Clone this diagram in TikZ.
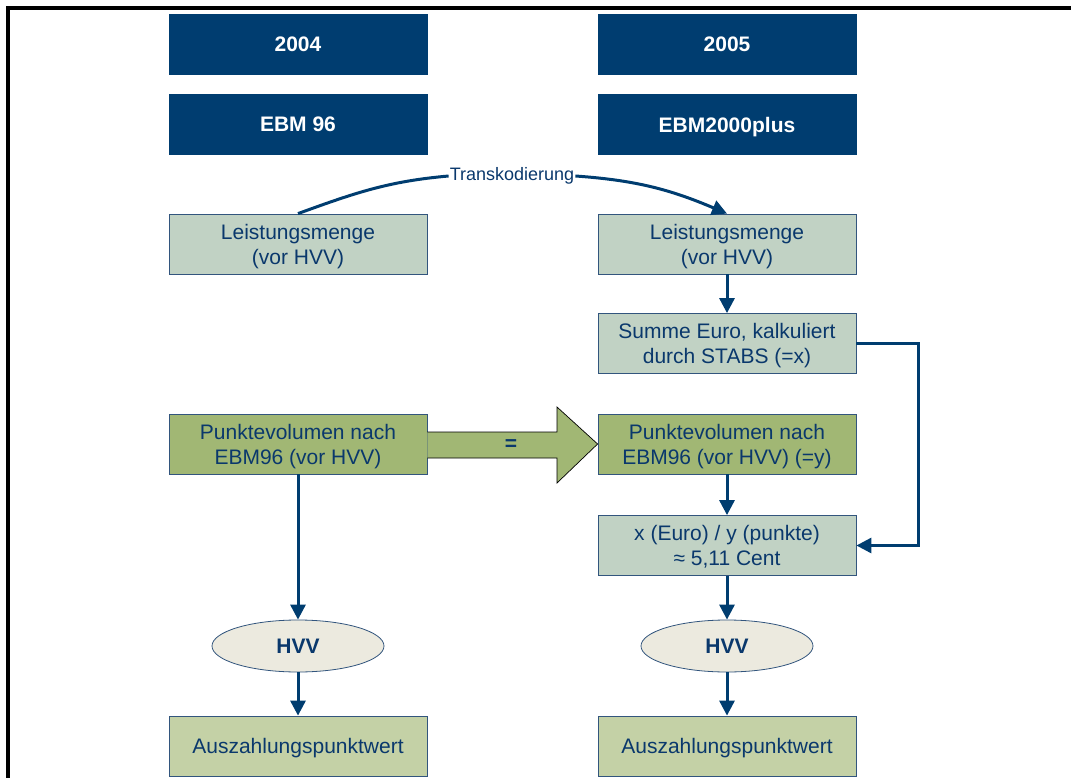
\documentclass[tikz,border=0pt]{standalone}
\usepackage{fontspec}
\setmainfont{Liberation Sans}
\usetikzlibrary{shapes.geometric,arrows.meta,calc}
\definecolor{navy}{RGB}{0,61,112}
\definecolor{txtblue}{RGB}{10,56,108}
\definecolor{lightbox}{RGB}{193,210,196}
\definecolor{olive}{RGB}{161,183,116}
\definecolor{paleolive}{RGB}{196,209,166}
\definecolor{cream}{RGB}{236,234,223}
\definecolor{edge}{RGB}{50,85,125}
\tikzset{
  base/.style={rectangle, minimum width=258pt, minimum height=60pt, inner sep=0pt, align=center, text depth=0pt, font=\fontsize{21}{25}\selectfont, text=txtblue, draw=edge, line width=0.8pt},
  head/.style={base, fill=navy, draw=navy, text=white, font=\fontsize{21}{25}\selectfont\bfseries},
  grey/.style={base, fill=lightbox},
  green/.style={base, fill=olive},
  pale/.style={base, fill=paleolive},
  oval/.style={ellipse, minimum width=172pt, minimum height=52pt, inner sep=0pt, fill=cream, draw=edge, line width=0.8pt, text=txtblue, font=\fontsize{21}{25}\selectfont\bfseries},
  arr/.style={draw=navy, line width=3pt, -{Triangle[length=15pt,width=15pt]}},
  conn/.style={draw=navy, line width=3pt},
}
\begin{document}
\begin{tikzpicture}[x=1pt,y=-1pt]
\useasboundingbox (0,0) rectangle (1071,778);
\draw[line width=3.5pt] (1071,8) -- (8,8) -- (8,778);

\node[head] (y04) at (298,44) {2004};
\node[head] (y05) at (727,44) {2005};
\node[head] (ebm96) at (298,124.5) {EBM 96};
\node[head] (ebm2k) at (727,124.5) {EBM2000plus};

\node[grey] (lm1) at (298,244) {Leistungsmenge\\(vor HVV)};
\node[grey] (lm2) at (727,244) {Leistungsmenge\\(vor HVV)};
\node[grey] (se) at (727,343.5) {Summe Euro, kalkuliert\\durch STABS (=x)};
\node[green] (pv1) at (298,444) {Punktevolumen nach\\EBM96 (vor HVV)};
\node[green] (pv2) at (727,444) {Punktevolumen nach\\EBM96 (vor HVV) (=y)};
\node[grey] (xe) at (727,545.5) {x (Euro) / y (punkte)\\≈ 5,11 Cent};
\node[oval] (h1) at (298,646) {HVV};
\node[oval] (h2) at (727,646) {HVV};
\node[pale] (az1) at (298,746) {Auszahlungspunktwert};
\node[pale] (az2) at (727,746) {Auszahlungspunktwert};

% big equals arrow
\draw[fill=olive, draw=black, line width=0.7pt]
  (pv1.east |- 0,432) -- (557,432) -- (557,407) -- (pv2.west) -- (557,483) -- (557,458) -- (pv1.east |- 0,458);
\node[text=txtblue, font=\fontsize{21}{25}\selectfont\bfseries] (eq) at (511,445) {=};

% Transkodierung
\node[text=txtblue, font=\fontsize{18}{22}\selectfont, inner sep=1pt] (tk) at (512,176) {Transkodierung};
\draw[conn] (lm1.north) to[out=20,in=185] (tk.west);
\draw[arr] (tk.east) to[out=-4,in=157] (lm2.north);

% vertical arrows
\draw[arr] (lm2) -- (se);
\draw[arr] (pv2) -- (xe);
\draw[arr] (xe) -- (h2);
\draw[arr] (h2) -- (az2);
\draw[arr] (pv1) -- (h1);
\draw[arr] (h1) -- (az1);

% elbow
\draw[arr] (se.east) -- ++(62,0) |- (xe.east);
\end{tikzpicture}
\end{document}
